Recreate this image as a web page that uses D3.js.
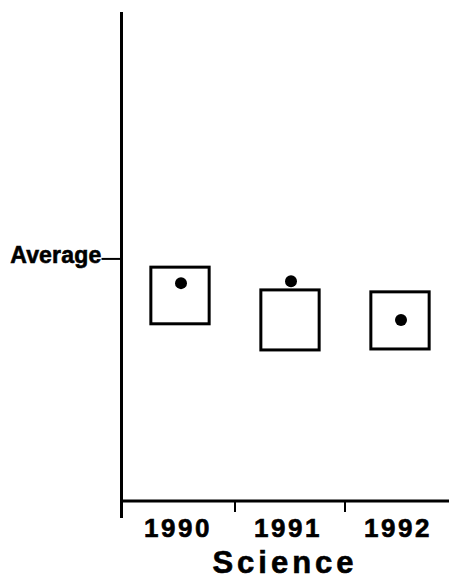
<!DOCTYPE html>
<html>
<head>
<meta charset="utf-8">
<script src="https://cdn.jsdelivr.net/npm/d3@7"></script>
<style>
  body { margin: 0; background: #fff; }
  text { font-family: "Liberation Sans", Arial, Helvetica, sans-serif; font-weight: bold; fill: #000; stroke: #000; stroke-width: 0.6; }
</style>
</head>
<body>
<div id="vis"></div>
<script>
// data (arbitrary score units, Average = 50)
const years = ["1990", "1991", "1992"];
const boxTop = [48.3, 43.6, 43.2];
const boxBottom = [36.6, 31.2, 31.4];
const dotValue = [45.0, 45.4, 37.4];
const averageValue = 50;
const subject = "Science";

const width = 449, height = 580;

const svg = d3.select("#vis").append("svg")
  .attr("width", width)
  .attr("height", height);

// scales
const x = d3.scaleBand().domain(years).range([125, 455]).padding(0);
const y = d3.scaleLinear().domain([0, 101]).range([501, 12]);

const axisX = 121.5;
const boxW = x.bandwidth() * 0.53;

// y axis line (runs a bit below the x axis)
svg.append("line")
  .attr("x1", axisX).attr("x2", axisX)
  .attr("y1", y(101)).attr("y2", y(0) + 17)
  .attr("stroke", "#000").attr("stroke-width", 3);

// x axis line
svg.append("line")
  .attr("x1", axisX).attr("x2", width)
  .attr("y1", y(0)).attr("y2", y(0))
  .attr("stroke", "#000").attr("stroke-width", 3);

// tick marks between the years
svg.selectAll(".xtick")
  .data(years.slice(1))
  .join("line")
  .attr("class", "xtick")
  .attr("x1", d => x(d)).attr("x2", d => x(d))
  .attr("y1", y(0)).attr("y2", y(0) + 11)
  .attr("stroke", "#000").attr("stroke-width", 2);

// year labels
svg.selectAll(".year")
  .data(years)
  .join("text")
  .attr("class", "year")
  .attr("x", d => x(d) + x.bandwidth() / 2 - 2)
  .attr("y", 537)
  .attr("text-anchor", "middle")
  .attr("font-size", 26)
  .attr("letter-spacing", 2.5)
  .text(d => d);

// subject title
svg.append("text")
  .attr("x", x("1991") + x.bandwidth() / 2 - 5)
  .attr("y", 573)
  .attr("text-anchor", "middle")
  .attr("font-size", 31)
  .attr("letter-spacing", 4)
  .text(subject);

// average tick + label
svg.append("line")
  .attr("x1", axisX - 20).attr("x2", axisX)
  .attr("y1", y(averageValue)).attr("y2", y(averageValue))
  .attr("stroke", "#000").attr("stroke-width", 2);

svg.append("text")
  .attr("x", axisX - 20)
  .attr("y", y(averageValue) + 4)
  .attr("text-anchor", "end")
  .attr("font-size", 23)
  .attr("letter-spacing", 0.2)
  .text("Average");

// range boxes
svg.selectAll(".box")
  .data(years)
  .join("rect")
  .attr("class", "box")
  .attr("x", d => x(d) + x.bandwidth() / 2 - boxW / 2)
  .attr("y", (d, i) => y(boxTop[i]))
  .attr("width", boxW)
  .attr("height", (d, i) => y(boxBottom[i]) - y(boxTop[i]))
  .attr("fill", "none")
  .attr("stroke", "#000")
  .attr("stroke-width", 3);

// value dots
svg.selectAll(".dot")
  .data(years)
  .join("circle")
  .attr("class", "dot")
  .attr("cx", d => x(d) + x.bandwidth() / 2 + 1)
  .attr("cy", (d, i) => y(dotValue[i]))
  .attr("r", 6)
  .attr("fill", "#000");
</script>
</body>
</html>
